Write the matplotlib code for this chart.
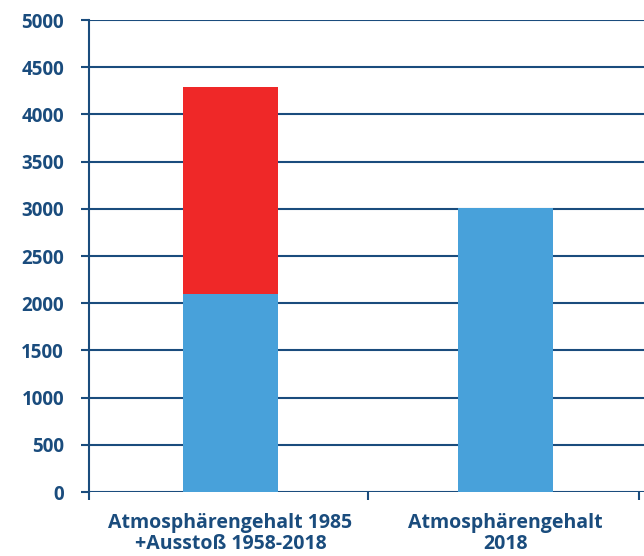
import matplotlib

matplotlib.use("Agg")

import matplotlib.pyplot as plt
from matplotlib.ticker import FixedLocator, NullFormatter

categories = ["Atmosphärengehalt 1985\n+Ausstoß 1958-2018", "Atmosphärengehalt\n2018"]
base_values = [2100, 3010]
added_values = [2190, 0]
y_ticks = [0, 500, 1000, 1500, 2000, 2500, 3000, 3500, 4000, 4500, 5000]

NAVY = "#1a4c7d"
BLUE = "#48a1da"
RED = "#ef2828"

plt.rcParams["font.family"] = ["Open Sans", "DejaVu Sans"]

fig = plt.figure(figsize=(6.44, 5.56), dpi=100)
ax = fig.add_axes([89 / 644, 64 / 556, 1 - 89 / 644, 472 / 556])

positions = list(range(len(categories)))
ax.bar(positions, base_values, width=0.346, color=BLUE, zorder=3)
ax.bar(positions, added_values, bottom=base_values, width=0.346, color=RED, zorder=3)

ax.set_ylim(0, 5000)
ax.set_xlim(-0.515, 1.505)
ax.set_yticks(y_ticks)
ax.set_yticklabels([str(v) for v in y_ticks])
ax.yaxis.grid(True, color=NAVY, linewidth=1.5, zorder=1)

# category labels sit at bar centres, tick marks sit on the boundaries
ax.set_xticks(positions)
ax.set_xticklabels(categories)
ax.xaxis.set_minor_locator(FixedLocator([-0.515, 0.5, 1.485]))
ax.xaxis.set_minor_formatter(NullFormatter())
ax.tick_params(axis="x", which="major", length=0, pad=15)
ax.tick_params(axis="x", which="minor", length=6, width=1.5, color=NAVY)
ax.tick_params(axis="y", length=6, width=1.5, color=NAVY, pad=12)

for label in ax.get_yticklabels():
    label.set_color(NAVY)
    label.set_fontweight("bold")
    label.set_fontsize(13.5)
for label in ax.get_xticklabels():
    label.set_color(NAVY)
    label.set_fontweight("bold")
    label.set_fontsize(14)
    label.set_linespacing(1.1)

for side in ("top", "right", "bottom"):
    ax.spines[side].set_visible(False)
ax.spines["left"].set_color(NAVY)
ax.spines["left"].set_linewidth(1.5)

fig.savefig("out.png", dpi=100, facecolor="white")
